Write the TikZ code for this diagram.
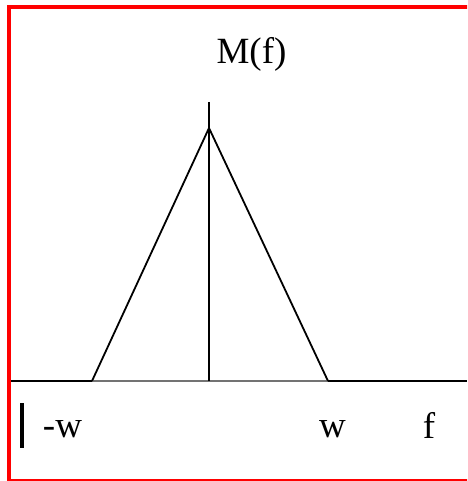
\documentclass[tikz,border=0pt]{standalone}
\usepackage{fontspec}
\setmainfont{Liberation Serif}
\begin{document}
\begin{tikzpicture}[x=1pt,y=-1pt,
  lbl/.style={font=\fontsize{37}{40}\selectfont, inner sep=0pt, anchor=base},
  ln/.style={line width=1.8pt, black}]
\useasboundingbox (0,0) rectangle (467,481);
\begin{scope}
\clip (0,0) rectangle (467,481);
\draw[red, line width=4pt] (9,7) rectangle (490,481);
\end{scope}
\coordinate (axL) at (11,381);
\coordinate (axR) at (467,381);
\coordinate (fL) at (92,381);
\coordinate (fR) at (328,381);
\coordinate (apex) at (209,128);
\coordinate (vtop) at (209,102);
\coordinate (vbot) at (209,381);
\draw[ln] (axL) -- (fL);
\draw[ln] (fR) -- (axR);
\draw[line width=1.8pt, black!55] (fL) -- (fR);
\draw[ln] (vtop) -- (vbot);
\draw[ln, line join=miter] (fL) -- (apex) -- (fR);
\coordinate (barT) at (22,403);
\coordinate (barB) at (22,448);
\draw[line width=3.5pt] (barT) -- (barB);
\node[lbl] (M) at (251.5,64) {M(f)};
\node[lbl] (mw) at (62.5,437) {-w};
\node[lbl] (w) at (332.5,437) {w};
\node[lbl] (f) at (429,438) {f};
\end{tikzpicture}
\end{document}
